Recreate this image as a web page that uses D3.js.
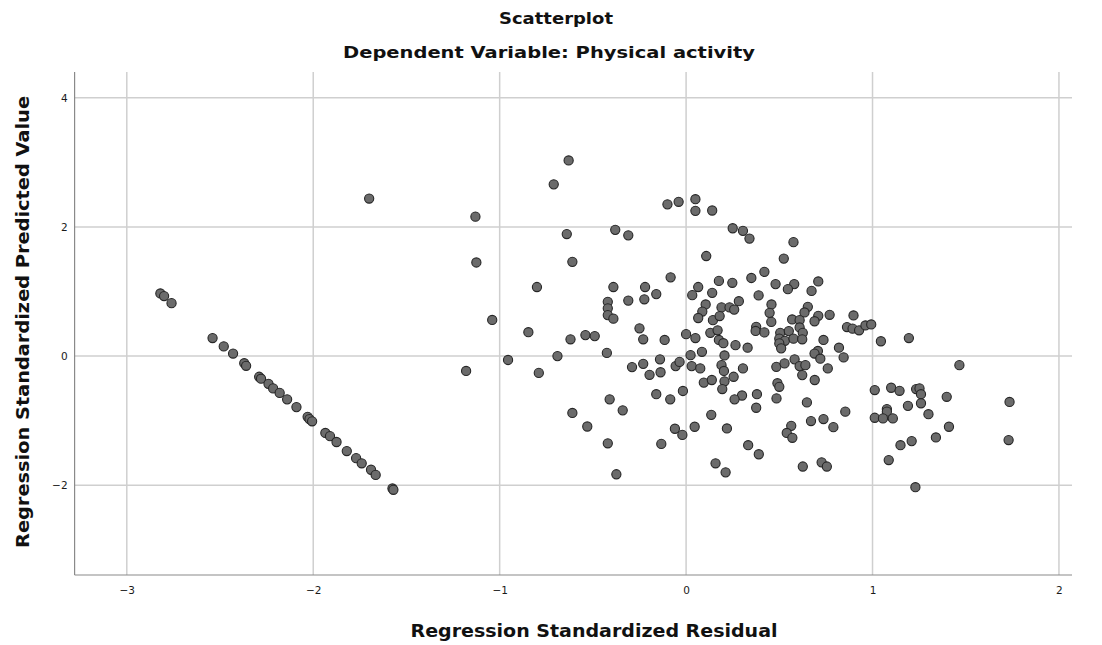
<!DOCTYPE html>
<html>
<head>
<meta charset="utf-8">
<script src="https://cdn.jsdelivr.net/npm/d3@7"></script>
<style>
  body { margin: 0; background: #fff; }
  text { font-family: "DejaVu Sans", "Liberation Sans", Arial, sans-serif; }
</style>
</head>
<body>
<script>
(function(){

    //tick values for both axes
    var xTicks = [-3, -2, -1, 0, 1, 2];
    var yTicks = [-2, 0, 2, 4];

    //titles
    var chartTitle = "Scatterplot";
    var chartSubtitle = "Dependent Variable: Physical activity";
    var xTitle = "Regression Standardized Residual";
    var yTitle = "Regression Standardized Predicted Value";

    //[standardized residual, standardized predicted value]
    //cases on the left diagonal band
    var leftCases = [
        [-1.70, 2.44], [-2.82, 0.97], [-2.80, 0.93], [-2.76, 0.82], [-2.54, 0.28],
        [-2.48, 0.15], [-2.43, 0.04], [-2.37, -0.11], [-2.36, -0.15], [-2.29, -0.32],
        [-2.28, -0.35], [-2.24, -0.43], [-2.215, -0.50], [-2.18, -0.57], [-2.14, -0.67],
        [-2.09, -0.79], [-2.03, -0.94], [-2.02, -0.975], [-2.006, -1.01], [-1.935, -1.19],
        [-1.91, -1.24], [-1.875, -1.33], [-1.82, -1.47], [-1.77, -1.58], [-1.74, -1.66],
        [-1.69, -1.76], [-1.665, -1.84], [-1.575, -2.05], [-1.57, -2.07]
    ];

    //cases with residual roughly between -1.2 and 0
    var middleCases = [
        [-0.63, 3.03], [-0.71, 2.66], [-1.13, 2.16], [-1.125, 1.45], [-0.64, 1.89],
        [-0.61, 1.46], [-0.80, 1.07], [-1.04, 0.56], [-0.846, 0.37], [-0.38, 1.955],
        [-0.31, 1.87], [-0.10, 2.35], [-0.04, 2.39], [-0.083, 1.22], [-0.39, 1.07],
        [-0.22, 1.07], [-0.224, 0.88], [-0.16, 0.96], [-0.31, 0.86], [-0.42, 0.84],
        [-0.42, 0.74], [-0.42, 0.635], [-0.39, 0.58], [-0.25, 0.43], [-0.54, 0.325],
        [-0.49, 0.31], [-0.62, 0.26], [-0.23, 0.26], [-0.115, 0.25], [0.00, 0.34],
        [-1.18, -0.23], [-0.955, -0.06], [-0.79, -0.26], [-0.69, 0.00], [-0.425, 0.05],
        [-0.29, -0.17], [-0.23, -0.12], [-0.14, -0.05], [-0.196, -0.29], [-0.137, -0.25],
        [-0.056, -0.155], [-0.035, -0.09], [0.024, 0.015], [0.03, -0.155], [-0.41, -0.67],
        [-0.34, -0.84], [-0.61, -0.88], [-0.53, -1.09], [-0.42, -1.35], [-0.374, -1.83],
        [-0.16, -0.59], [-0.085, -0.67], [-0.017, -0.54], [-0.06, -1.125], [-0.02, -1.22],
        [-0.133, -1.36]
    ];

    //cases with residual roughly between 0 and 1
    var rightCases = [
        [0.05, 2.43], [0.05, 2.25], [0.14, 2.255], [0.25, 1.98], [0.305, 1.94],
        [0.34, 1.82], [0.576, 1.765], [0.108, 1.55], [0.524, 1.51], [0.42, 1.305],
        [0.35, 1.21], [0.176, 1.165], [0.248, 1.135], [0.065, 1.07], [0.033, 0.944],
        [0.14, 0.98], [0.48, 1.115], [0.58, 1.115], [0.546, 1.037], [0.709, 1.156],
        [0.673, 1.01], [0.389, 0.94], [0.105, 0.80], [0.087, 0.69], [0.065, 0.59],
        [0.19, 0.754], [0.233, 0.754], [0.258, 0.72], [0.283, 0.85], [0.144, 0.557],
        [0.18, 0.62], [0.458, 0.80], [0.448, 0.67], [0.457, 0.53], [0.653, 0.763],
        [0.635, 0.676], [0.569, 0.568], [0.609, 0.557], [0.709, 0.624], [0.689, 0.54],
        [0.77, 0.64], [0.898, 0.63], [0.863, 0.45], [0.893, 0.425], [0.928, 0.40],
        [0.962, 0.475], [0.993, 0.49], [0.05, 0.28], [0.13, 0.36], [0.169, 0.40],
        [0.376, 0.454], [0.373, 0.39], [0.42, 0.367], [0.505, 0.36], [0.551, 0.387],
        [0.609, 0.444], [0.626, 0.36], [0.737, 0.25], [1.045, 0.23],
        [0.176, 0.25], [0.20, 0.20], [0.085, 0.067], [0.206, 0.01], [0.076, -0.19],
        [0.19, -0.14],
        [0.50, 0.27], [0.53, 0.237], [0.576, 0.27], [0.623, 0.26], [0.50, 0.197],
        [0.51, 0.12], [0.265, 0.17], [0.33, 0.13], [0.82, 0.13], [0.707, 0.08],
        [0.689, 0.04], [0.72, -0.04], [0.845, -0.02], [0.305, -0.19], [0.484, -0.166],
        [0.528, -0.113], [0.582, -0.05], [0.609, -0.155], [0.64, -0.14], [0.76, -0.19],
        [0.203, -0.23], [0.095, -0.41], [0.138, -0.37], [0.206, -0.39], [0.194, -0.51],
        [0.135, -0.91], [0.046, -1.094], [0.219, -1.12], [0.158, -1.66], [0.212, -1.80],
        [0.255, -0.32], [0.623, -0.294], [0.69, -0.37], [0.49, -0.42], [0.50, -0.475],
        [0.38, -0.59], [0.30, -0.61], [0.26, -0.67], [0.485, -0.655], [0.376, -0.80],
        [0.648, -0.717], [0.854, -0.86], [0.67, -1.006], [0.737, -0.975], [0.79, -1.10],
        [0.564, -1.08], [0.54, -1.19], [0.57, -1.265], [0.333, -1.38], [0.39, -1.52],
        [0.626, -1.71], [0.727, -1.645], [0.755, -1.71]
    ];

    //cases with residual above 1
    var farCases = [
        [1.195, 0.28], [1.466, -0.14], [1.012, -0.526], [1.012, -0.955],
        [1.10, -0.49], [1.145, -0.537], [1.234, -0.51], [1.252, -0.50], [1.26, -0.59],
        [1.26, -0.73], [1.398, -0.63], [1.077, -0.82], [1.077, -0.86], [1.056, -0.965],
        [1.109, -0.965], [1.19, -0.77], [1.30, -0.90], [1.41, -1.094], [1.34, -1.26],
        [1.21, -1.316], [1.15, -1.38], [1.087, -1.61], [1.23, -2.03], [1.735, -0.71],
        [1.73, -1.30]
    ];

    window.onload = drawChart();

    function drawChart(){
        var width = 1102,
            height = 645;

        var svg = d3.select("body")
            .append("svg")
            .attr("width", width)
            .attr("height", height);

        //plot frame
        var left = 74.6, right = 1072, top = 72, bottom = 575;

        var x = d3.scaleLinear()
            .domain([-3.28, 2.07])
            .range([left, right]);

        var y = d3.scaleLinear()
            .domain([-3.39, 4.40])
            .range([bottom, top]);

        //grid lines
        svg.selectAll(".vgrid")
            .data(xTicks)
            .enter()
            .append("line")
            .attr("class", "vgrid")
            .attr("x1", function(d){ return x(d); })
            .attr("x2", function(d){ return x(d); })
            .attr("y1", top)
            .attr("y2", bottom)
            .attr("stroke", "#cfcfcf")
            .attr("stroke-width", 1.5);

        svg.selectAll(".hgrid")
            .data(yTicks)
            .enter()
            .append("line")
            .attr("class", "hgrid")
            .attr("x1", left)
            .attr("x2", right)
            .attr("y1", function(d){ return y(d); })
            .attr("y2", function(d){ return y(d); })
            .attr("stroke", "#cfcfcf")
            .attr("stroke-width", 1.5);

        //axes
        var xAxis = d3.axisBottom(x)
            .tickValues(xTicks)
            .tickSize(0)
            .tickPadding(12)
            .tickFormat(d3.format("d"));

        var yAxis = d3.axisLeft(y)
            .tickValues(yTicks)
            .tickSize(0)
            .tickPadding(7)
            .tickFormat(d3.format("d"));

        var gx = svg.append("g")
            .attr("transform", "translate(0," + bottom + ")")
            .call(xAxis);

        var gy = svg.append("g")
            .attr("transform", "translate(" + left + ",0)")
            .call(yAxis);

        [gx, gy].forEach(function(g){
            g.select(".domain").attr("stroke", "#8a8a8a").attr("stroke-width", 1.2);
            g.selectAll(".tick text")
                .attr("fill", "#1a1a1a")
                .style("font-size", "10.5px")
                .style("font-family", "'DejaVu Sans', Arial, sans-serif");
        });
        gx.select(".domain").attr("d", "M" + left + ",0H" + right);
        gy.select(".domain").attr("d", "M0," + top + "V" + bottom);

        //points
        var allCases = leftCases.concat(middleCases, rightCases, farCases);

        svg.selectAll(".case")
            .data(allCases)
            .enter()
            .append("circle")
            .attr("class", "case")
            .attr("cx", function(d){ return x(d[0]); })
            .attr("cy", function(d){ return y(d[1]); })
            .attr("r", 4.6)
            .attr("fill", "#6b6b6b")
            .attr("stroke", "#262626")
            .attr("stroke-width", 1.1);

        //titles
        svg.append("text")
            .attr("x", 556)
            .attr("y", 24)
            .attr("text-anchor", "middle")
            .attr("font-weight", "bold")
            .attr("font-size", 15.5)
            .attr("fill", "#111")
            .attr("textLength", 114)
            .attr("lengthAdjust", "spacingAndGlyphs")
            .text(chartTitle);

        svg.append("text")
            .attr("x", 549)
            .attr("y", 58)
            .attr("text-anchor", "middle")
            .attr("font-weight", "bold")
            .attr("font-size", 15.5)
            .attr("fill", "#111")
            .attr("textLength", 412)
            .attr("lengthAdjust", "spacingAndGlyphs")
            .text(chartSubtitle);

        svg.append("text")
            .attr("x", 594)
            .attr("y", 637)
            .attr("text-anchor", "middle")
            .attr("font-weight", "bold")
            .attr("font-size", 18)
            .attr("fill", "#111")
            .attr("textLength", 367)
            .attr("lengthAdjust", "spacingAndGlyphs")
            .text(xTitle);

        svg.append("text")
            .attr("transform", "translate(29,322) rotate(-90)")
            .attr("text-anchor", "middle")
            .attr("font-weight", "bold")
            .attr("font-size", 18)
            .attr("fill", "#111")
            .attr("textLength", 452)
            .attr("lengthAdjust", "spacingAndGlyphs")
            .text(yTitle);
    };

})();
</script>
</body>
</html>
